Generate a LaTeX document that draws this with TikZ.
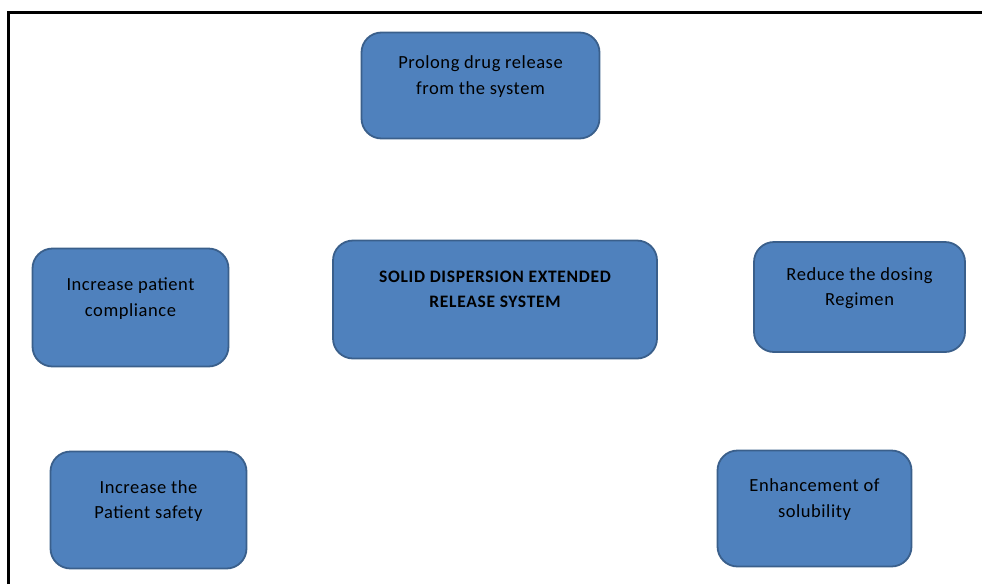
\documentclass[tikz,border=0pt]{standalone}
\usepackage{fontspec}
\setmainfont{Carlito}
\begin{document}
\begin{tikzpicture}[x=1pt,y=-1pt,
  box/.style={draw=boxedge, fill=boxfill, line width=1.8pt, rounded corners=20pt, inner sep=0pt},
  txt/.style={align=center, inner sep=0pt, font=\fontsize{18.5}{25.5}\selectfont\addfontfeatures{LetterSpace=3}, text=black},
  btxt/.style={align=center, inner sep=0pt, font=\fontsize{17.5}{25}\selectfont\bfseries\addfontfeatures{LetterSpace=4}, text=black}]
\definecolor{boxfill}{HTML}{4F81BD}
\definecolor{boxedge}{HTML}{3A5F8B}
\useasboundingbox (0,0) rectangle (982,584);
\coordinate (fa) at (8.5,584);
\coordinate (fb) at (8.5,12.5);
\coordinate (fc) at (982,12.5);
\draw[line width=2.3pt] (fa) -- (fb) -- (fc);
% boxes
\node[box, minimum width=238pt, minimum height=106pt] (top) at (480.5,85.5) {};
\node[box, minimum width=324pt, minimum height=118pt] (center) at (495,299.5) {};
\node[box, minimum width=196pt, minimum height=118pt] (left) at (130.5,307.5) {};
\node[box, minimum width=211pt, minimum height=110pt] (right) at (859.5,297) {};
\node[box, minimum width=196pt, minimum height=117pt] (bl) at (148.5,510) {};
\node[box, minimum width=194pt, minimum height=116pt] (br) at (814.5,508.5) {};
% texts
\node[txt] (topt) at ([yshift=9pt]top.center) {Prolong drug release\\from the system};
\node[btxt] (centert) at ([yshift=10pt]center.center) {SOLID DISPERSION EXTENDED\\RELEASE SYSTEM};
\node[txt] (leftt) at ([yshift=9pt]left.center) {Increase patient\\compliance};
\node[txt] (rightt) at ([yshift=9pt]right.center) {Reduce the dosing\\Regimen};
\node[txt] (blt) at ([yshift=9pt]bl.center) {Increase the\\Patient safety};
\node[txt] (brt) at ([yshift=9pt]br.center) {Enhancement of\\solubility};
\end{tikzpicture}
\end{document}
